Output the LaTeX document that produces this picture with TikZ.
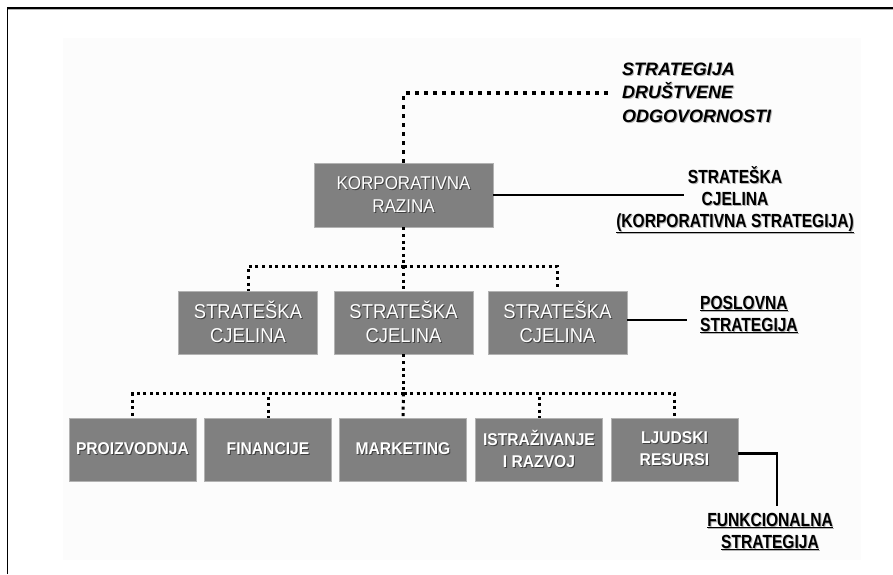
\documentclass[tikz,border=0pt]{standalone}
\usepackage{fontspec}
\setmainfont{Liberation Sans}
\newfontfamily\boxfont{Liberation Sans}[FakeStretch=0.92]
\newfontfamily\lblfont{Liberation Sans}[FakeStretch=0.82]
% text with a drop shadow: #1 shadow colour, #2 text
\newcommand\shd[2]{\leavevmode\rlap{\kern1pt\raisebox{-1pt}{\textcolor{#1}{#2}}}#2}
\definecolor{boxgray}{RGB}{128,128,128}
\definecolor{panel}{RGB}{252,252,252}
\begin{document}
\begin{tikzpicture}[x=1pt,y=-1pt,
  orgbox/.style={fill=boxgray,draw=gray!60,line width=0.8pt,inner sep=0pt,
    text=white,align=center,font=\boxfont},
  bigdots/.style={line width=3.6pt,dash pattern=on 3.6pt off 5.4pt},
  smalldots/.style={line width=3pt,dash pattern=on 3pt off 3.6pt},
  solidln/.style={line width=2.4pt},
  lbl/.style={inner sep=0pt,align=center,font=\lblfont\bfseries\fontsize{19}{22}\selectfont},
]
\useasboundingbox (0,0) rectangle (893,574);
% page frame and background panel
\fill[panel] (63,38) rectangle (861,560);
\draw[gray!60,line width=1pt] (8,9.5) -- (893,9.5);
\draw[line width=1.6pt] (7.5,574) -- (7.5,8) -- (893,8);

% corporate level
\node[orgbox,minimum width=179pt,minimum height=64pt,
  font=\boxfont\fontsize{18.5}{23}\selectfont] (korp) at (403.5,195)
  {\shd{black!75}{KORPORATIVNA}\\\shd{black!75}{RAZINA}};

% business units
\foreach \n/\x in {s1/248,s2/403.5,s3/557.5}{
  \node[orgbox,minimum width=139pt,minimum height=63pt,
    font=\boxfont\fontsize{20}{24}\selectfont] (\n) at (\x,322.5)
    {\shd{black!75}{STRATEŠKA}\\\shd{black!75}{CJELINA}};
}

% functional areas
\tikzset{fbox/.style={orgbox,minimum width=127pt,minimum height=63pt,
  font=\boxfont\bfseries\fontsize{17}{22}\selectfont}}
\node[fbox] (f1) at (132.5,449.5) {\shd{black!75}{PROIZVODNJA}};
\node[fbox] (f2) at (268,449.5) {\shd{black!75}{FINANCIJE}};
\node[fbox] (f3) at (403,449.5) {\shd{black!75}{MARKETING}};
\node[fbox] (f4) at (539,449.5) {\shd{black!75}{ISTRAŽIVANJE}\\\shd{black!75}{I RAZVOJ}};
\node[fbox] (f5) at (674.5,449.5) {\shd{black!75}{LJUDSKI}\\\shd{black!75}{RESURSI}};

% social responsibility strategy
\coordinate (csr) at (608,93);
\node[anchor=west,inner sep=0pt,align=left,
  font=\bfseries\itshape\fontsize{18}{23.5}\selectfont] (csrlbl) at (622,93)
  {\shd{gray!60}{STRATEGIJA}\\\shd{gray!60}{DRUŠTVENE}\\\shd{gray!60}{ODGOVORNOSTI}};
\draw[bigdots] (korp.north) |- (csr);

% dotted hierarchy
\draw[smalldots] (korp.south) -- ++(0,39) coordinate (j1);
\draw[smalldots] (j1) -| (s1.north);
\draw[smalldots] (j1) -| (s3.north);
\draw[smalldots] (j1) -- (s2.north);
\draw[smalldots] (s2.south) -- ++(0,39) coordinate (j2);
\foreach \f in {f1,f2,f4,f5}{\draw[smalldots] (j2) -| (\f.north);}
\draw[smalldots] (j2) -- (f3.north);

% strategy level labels
\node[lbl] (corplbl) at (735,200)
  {\shd{gray!60}{STRATEŠKA}\\\shd{gray!60}{CJELINA}\\\shd{gray!60}{\underline{(KORPORATIVNA STRATEGIJA)}}};
\coordinate (corpend) at (684,195);
\draw[solidln] (korp.east) -- (corpend);

\node[lbl,anchor=west,align=left] (buslbl) at (700,315)
  {\shd{gray!60}{\underline{POSLOVNA}}\\\shd{gray!60}{\underline{STRATEGIJA}}};
\coordinate (busend) at (687,320);
\draw[solidln] (s3.east |- busend) -- (busend);

\node[lbl] (funlbl) at (770,532)
  {\shd{gray!60}{\underline{FUNKCIONALNA}}\\\shd{gray!60}{\underline{STRATEGIJA}}};
\coordinate (funend) at (777,506);
\draw[solidln] ([yshift=-4pt]f5.east) -| (funend);
\end{tikzpicture}
\end{document}
